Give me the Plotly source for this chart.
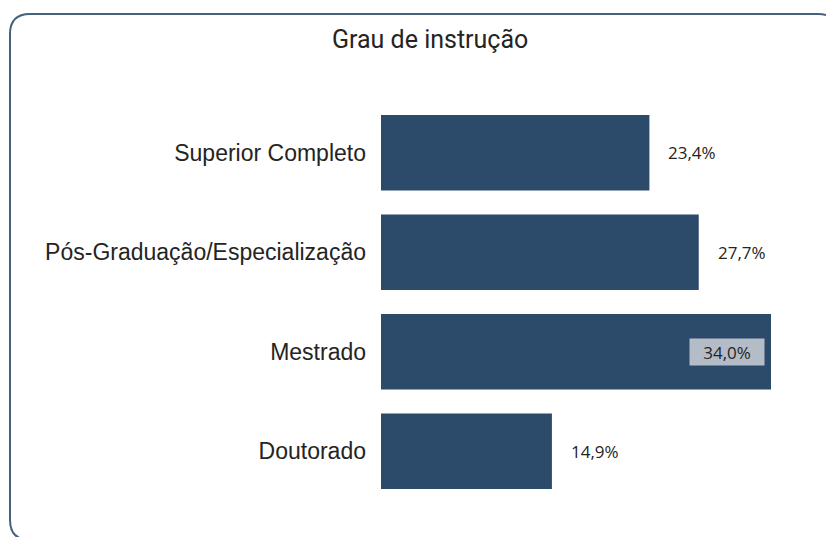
import plotly.graph_objects as go

categories = ["Superior Completo", "Pós-Graduação/Especialização", "Mestrado", "Doutorado"]
values = [23.4, 27.7, 34.0, 14.9]
value_labels = ["23,4%", "27,7%", "34,0%", "14,9%"]
title_text = "Grau de instrução"

OFF = 8  # default page body margin
W, H = 834 - OFF, 537 - OFF
ML, MR, MT, MB = 381 - OFF, 34, 103 - OFF, 36
PW, PH = W - ML - MR, H - MT - MB

def px(x):
    return (x - OFF - ML) / PW

def py(y):
    return (H - MB - (y - OFF)) / PH

fig = go.Figure(go.Bar(
    x=values, y=categories, orientation="h",
    marker=dict(color="#2c4a6a", line=dict(width=0)),
    hoverinfo="skip",
))

annotations = []
for cat, v, lab in zip(categories, values, value_labels):
    inside = v == max(values)
    ann = dict(
        x=v, y=cat, xref="x", yref="y", text=lab, showarrow=False,
        xanchor="right" if inside else "left",
        xshift=-6 if inside else 16,
        font=dict(family="Open Sans, Noto Sans, sans-serif", size=17, color="#252423"),
        bgcolor="#b4bcc7" if inside else "rgba(0,0,0,0)",
        borderpad=2,
    )
    if inside:
        ann.update(width=70, height=22, align="center")
    annotations.append(ann)

annotations.append(dict(
    x=px(430), y=py(40), xref="paper", yref="paper", text=title_text,
    showarrow=False, xanchor="center", yanchor="middle",
    font=dict(family="Roboto, sans-serif", size=25, color="#252423"),
))

L, T, R, B, r = 10, 14, 838, 540, 20
path = (f"M {px(L + r)},{py(T)} L {px(R - r)},{py(T)} Q {px(R)},{py(T)} {px(R)},{py(T + r)} "
        f"L {px(R)},{py(B - r)} Q {px(R)},{py(B)} {px(R - r)},{py(B)} "
        f"L {px(L + r)},{py(B)} Q {px(L)},{py(B)} {px(L)},{py(B - r)} "
        f"L {px(L)},{py(T + r)} Q {px(L)},{py(T)} {px(L + r)},{py(T)} Z")

fig.update_layout(
    width=W, height=H,
    margin=dict(l=ML, r=MR, t=MT, b=MB),
    paper_bgcolor="white", plot_bgcolor="white",
    bargap=0.24,
    showlegend=False,
    xaxis=dict(range=[0, PW / ((771 - 381) / 34.0)], visible=False, fixedrange=True),
    yaxis=dict(autorange="reversed", showgrid=False, zeroline=False, showline=False,
               ticks="", ticklabelstandoff=14,
               tickfont=dict(family="Liberation Sans, Arial, sans-serif", size=23, color="#252423")),
    annotations=annotations,
    shapes=[dict(type="path", path=path, xref="paper", yref="paper",
                 line=dict(color="#46607e", width=2), fillcolor="rgba(0,0,0,0)", layer="above")],
)

fig.write_html("out.html")
